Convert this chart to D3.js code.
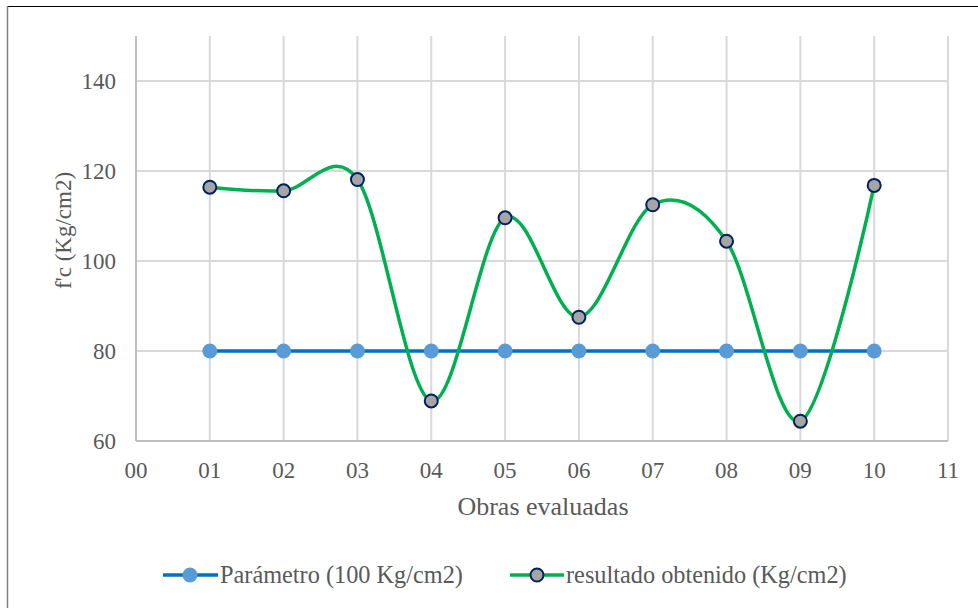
<!DOCTYPE html>
<html><head><meta charset="utf-8">
<script src="https://cdn.jsdelivr.net/npm/d3@7"></script>
<style>body{margin:0;background:#fff}svg{display:block}</style>
</head><body><svg id="c" width="978" height="608" font-family="'Liberation Serif', 'Times New Roman', 'DejaVu Serif', serif"></svg>
<script>
const categories = ["01","02","03","04","05","06","07","08","09","10"];
const xTickLabels = ["00","01","02","03","04","05","06","07","08","09","10","11"];
const parametroValues = [80,80,80,80,80,80,80,80,80,80];
const resultadoValues = [116.4,115.6,118.1,68.9,109.6,87.5,112.5,104.4,64.4,116.8];
const yTicks = [60,80,100,120,140];
const seriesNames = ["Parámetro (100 Kg/cm2)","resultado obtenido (Kg/cm2)"];

const svg = d3.select("#c");
const L=136,R=948,T=36,B=441;
const x = d3.scaleLinear().domain([0,11]).range([L,R]);
const y = d3.scaleLinear().domain([60,150]).range([B,T]);
const FF = "'Liberation Serif', 'Times New Roman', serif";

// outer border
svg.append("line").attr("x1",7).attr("x2",978).attr("y1",6.5).attr("y2",6.5).attr("stroke","#000").attr("stroke-width",1);
svg.append("line").attr("x1",7.5).attr("x2",7.5).attr("y1",6).attr("y2",608).attr("stroke","#808080").attr("stroke-width",1.5);

// grid
const g = svg.append("g");
yTicks.forEach(v=>{ if(v>60) g.append("line").attr("x1",L).attr("x2",R).attr("y1",y(v)).attr("y2",y(v)).attr("stroke","#d9d9d9").attr("stroke-width",2); });
xTickLabels.forEach((t,i)=>{ if(i>0) g.append("line").attr("x1",x(i)).attr("x2",x(i)).attr("y1",T).attr("y2",B).attr("stroke","#d9d9d9").attr("stroke-width",2); });
g.append("line").attr("x1",L).attr("x2",L).attr("y1",T).attr("y2",B).attr("stroke","#bfbfbf").attr("stroke-width",2);
g.append("line").attr("x1",L).attr("x2",R).attr("y1",B).attr("y2",B).attr("stroke","#bfbfbf").attr("stroke-width",2);

// tick labels
yTicks.forEach(v=>{ svg.append("text").attr("font-family",FF).attr("x",L-20).attr("y",y(v)+8).attr("text-anchor","end").attr("font-size",23).attr("fill","#595959").text(v); });
xTickLabels.forEach((t,i)=>{ svg.append("text").attr("font-family",FF).attr("x",x(i)).attr("y",478).attr("text-anchor","middle").attr("font-size",23).attr("fill","#595959").text(t); });

// titles
svg.append("text").attr("font-family",FF).attr("x",(L+R)/2+1).attr("y",515).attr("text-anchor","middle").attr("font-size",26).attr("fill","#595959").text("Obras evaluadas");
svg.append("text").attr("font-family",FF).attr("transform",`translate(71,${(T+B)/2-8}) rotate(-90)`).attr("text-anchor","middle").attr("font-size",23).attr("fill","#595959").text("f'c (Kg/cm2)");

// series
const pData = categories.map((c,i)=>[+c,parametroValues[i]]);
const rData = categories.map((c,i)=>[+c,resultadoValues[i]]);
svg.append("path").attr("d",d3.line().x(d=>x(d[0])).y(d=>y(d[1]))(pData)).attr("fill","none").attr("stroke","#0070C0").attr("stroke-width",3.5);
svg.selectAll(".pm").data(pData).join("circle").attr("cx",d=>x(d[0])).attr("cy",d=>y(d[1])).attr("r",7.5).attr("fill","#5B9BD5");
svg.append("path").attr("d",d3.line().curve(d3.curveCardinal.tension(0)).x(d=>x(d[0])).y(d=>y(d[1]))(rData)).attr("fill","none").attr("stroke","#00B050").attr("stroke-width",3.5);
svg.selectAll(".rm").data(rData).join("circle").attr("cx",d=>x(d[0])).attr("cy",d=>y(d[1])).attr("r",6.5).attr("fill","#A5A5A5").attr("stroke","#002060").attr("stroke-width",2);

// legend
const ly=575;
svg.append("line").attr("x1",163).attr("x2",218).attr("y1",ly).attr("y2",ly).attr("stroke","#0070C0").attr("stroke-width",3.5);
svg.append("circle").attr("cx",190).attr("cy",ly).attr("r",7.5).attr("fill","#5B9BD5");
svg.append("text").attr("font-family",FF).attr("x",220).attr("y",ly+8).attr("font-size",24.3).attr("fill","#595959").text(seriesNames[0]);
svg.append("line").attr("x1",510).attr("x2",564).attr("y1",ly).attr("y2",ly).attr("stroke","#00B050").attr("stroke-width",3.5);
svg.append("circle").attr("cx",537).attr("cy",ly).attr("r",6.5).attr("fill","#A5A5A5").attr("stroke","#002060").attr("stroke-width",2);
svg.append("text").attr("font-family",FF).attr("x",566).attr("y",ly+8).attr("font-size",24.3).attr("fill","#595959").text(seriesNames[1]);
</script></body></html>
